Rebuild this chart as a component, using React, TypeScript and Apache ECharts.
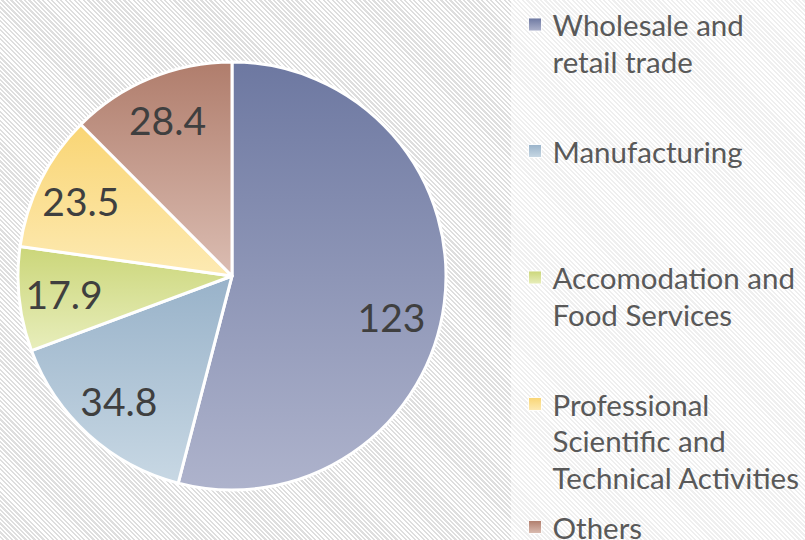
import React, { useEffect, useRef } from "react";
import * as echarts from "echarts";

const categories = [
  "Wholesale and\nretail trade",
  "Manufacturing",
  "Accomodation and\nFood Services",
  "Professional\nScientific and\nTechnical Activities",
  "Others",
];
const values = [123, 34.8, 17.9, 23.5, 28.4];
const topColors = ["#6d78a1", "#98b2c9", "#cbd679", "#f9d574", "#b07d6c"];
const bottomColors = ["#aeb3cc", "#c8d8e4", "#e8eebc", "#fdeab3", "#dbbdb2"];
const legendIconCenters = [24.5, 151, 277.5, 404, 527];

const LH = 36.5;

export default function App() {
  const ref = useRef<HTMLDivElement>(null);
  useEffect(() => {
    if (!ref.current) return;
    const chart = echarts.init(ref.current, null, { renderer: "svg" });
    const cx = 232;
    const cy = 276;
    const r = 214;
    const data = categories.map((name, i) => ({
      name,
      value: values[i],
      itemStyle: {
        color: new echarts.graphic.LinearGradient(0, 0, 0, 1, [
          { offset: 0, color: topColors[i] },
          { offset: 1, color: bottomColors[i] },
        ]),
      },
    }));
    const labelData = categories.map((name, i) => ({
      name,
      value: values[i],
      label: i === 0 ? { offset: [-8, 20] } : {},
    }));
    const legends = categories.map((name, i) => {
      const lines = name.split("\n").length;
      return {
        orient: "vertical",
        left: 528,
        top: legendIconCenters[i] - ((2 * lines - 1) * LH) / 2,
        padding: 0,
        itemWidth: 13,
        itemHeight: 13,
        icon: "rect",
        selectedMode: false,
        itemStyle: { borderWidth: 1, borderColor: "rgba(255,255,255,0.9)" },
        formatter: (n: string) => "\n".repeat(lines - 1) + n,
        textStyle: {
          fontFamily: "Lato",
          fontSize: 29.5,
          color: "#595959",
          lineHeight: LH,
          padding: [0, 0, 0, 6],
        },
        data: [name],
      };
    });
    chart.setOption({
      animation: false,
      backgroundColor: "transparent",
      graphic: [
        {
          type: "rect",
          z: 0,
          left: 511,
          top: 0,
          shape: { width: 294, height: 540 },
          style: { fill: "rgba(255,255,255,0.5)" },
        },
      ],
      legend: legends,
      series: [
        {
          type: "pie",
          center: [cx, cy],
          radius: r,
          startAngle: 90,
          clockwise: true,
          silent: true,
          label: { show: false },
          labelLine: { show: false },
          itemStyle: { borderColor: "#ffffff", borderWidth: 3 },
          data,
        },
        {
          type: "pie",
          center: [cx, cy],
          radius: [r * 0.55, r],
          startAngle: 90,
          clockwise: true,
          silent: true,
          legendHoverLink: false,
          itemStyle: { color: "rgba(0,0,0,0)", borderWidth: 0 },
          label: {
            show: true,
            position: "inside",
            formatter: "{c}",
            fontFamily: "Lato",
            fontSize: 39,
            color: "#3f3f3f",
          },
          labelLine: { show: false },
          data: labelData,
        },
      ],
    });
    return () => chart.dispose();
  }, []);
  return (
    <div
      style={{
        position: "fixed",
        left: 0,
        top: 0,
        width: 805,
        height: 540,
        background:
          "repeating-linear-gradient(45deg, #ffffff 0px, #ffffff 1.6px, #dedede 1.6px, #dedede 3.2px)",
      }}
    >
      <div ref={ref} style={{ width: 805, height: 540 }} />
    </div>
  );
}
